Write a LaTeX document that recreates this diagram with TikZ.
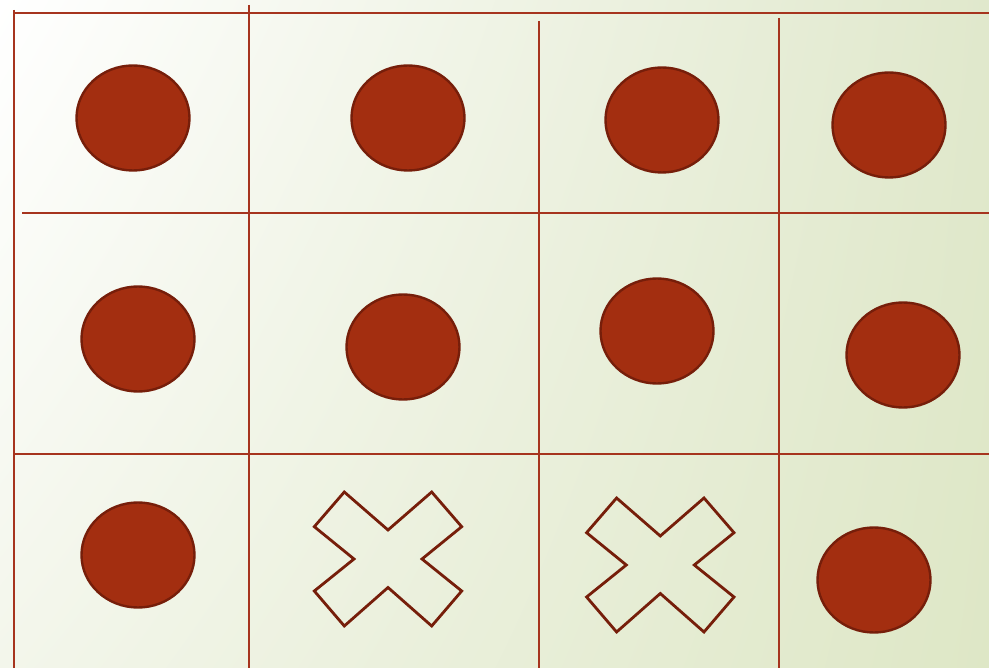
\documentclass[tikz,border=0pt]{standalone}
\usetikzlibrary{shapes.geometric,shadings}
\definecolor{gridc}{RGB}{166,52,30}
\definecolor{dotfill}{RGB}{163,46,16}
\definecolor{dotline}{RGB}{118,30,10}
\definecolor{bgTR}{RGB}{224,232,204}
\definecolor{bgBR}{RGB}{222,231,198}
\definecolor{bgBL}{RGB}{243,246,235}
\begin{document}
\begin{tikzpicture}[x=1pt,y=-1pt,
  gridline/.style={draw=gridc,line width=1.7pt},
  dot/.style={ellipse,fill=dotfill,draw=dotline,line width=2.4pt,minimum width=113pt,minimum height=105pt,inner sep=0pt},
  cross/.style={draw=dotline,line width=2.8pt,line join=miter}]
\useasboundingbox (0,0) rectangle (989,668);
\shade[upper left=white,upper right=bgTR,lower left=bgBL,lower right=bgBR] (0,0) rectangle (989,668);
% grid
\coordinate (h1a) at (14,13); \coordinate (h1b) at (989,13);
\coordinate (h2a) at (22,213); \coordinate (h2b) at (989,213);
\coordinate (h3a) at (15,454); \coordinate (h3b) at (989,454);
\coordinate (v1a) at (14,10); \coordinate (v1b) at (14,668);
\coordinate (v2a) at (249,5); \coordinate (v2b) at (249,668);
\coordinate (v3a) at (539,21); \coordinate (v3b) at (539,668);
\coordinate (v4a) at (779,18); \coordinate (v4b) at (779,668);
\draw[gridline] (h1a) -- (h1b);
\draw[gridline] (h2a) -- (h2b);
\draw[gridline] (h3a) -- (h3b);
\draw[gridline] (v1a) -- (v1b);
\draw[gridline] (v2a) -- (v2b);
\draw[gridline] (v3a) -- (v3b);
\draw[gridline] (v4a) -- (v4b);
% dots
\node[dot] (d11) at (133,118) {};
\node[dot] (d12) at (408,118) {};
\node[dot] (d13) at (662,120) {};
\node[dot] (d14) at (889,125) {};
\node[dot] (d21) at (138,339) {};
\node[dot] (d22) at (403,347) {};
\node[dot] (d23) at (657,331) {};
\node[dot] (d24) at (903,355) {};
\node[dot] (d31) at (138,555) {};
\node[dot] (d34) at (874,580) {};
% crosses
\foreach \cx/\cy in {388/559, 660.3/565}{
  \draw[cross,shift={(\cx,\cy)}]
    (0,-29) -- (43.7,-67) -- (73.7,-32.3) -- (34,0) -- (73.7,32) -- (43.7,67) -- (0,28.5)
    -- (-43.7,67) -- (-73.7,32) -- (-34,0) -- (-73.7,-32.3) -- (-43.7,-67) -- cycle;
}
\end{tikzpicture}
\end{document}
